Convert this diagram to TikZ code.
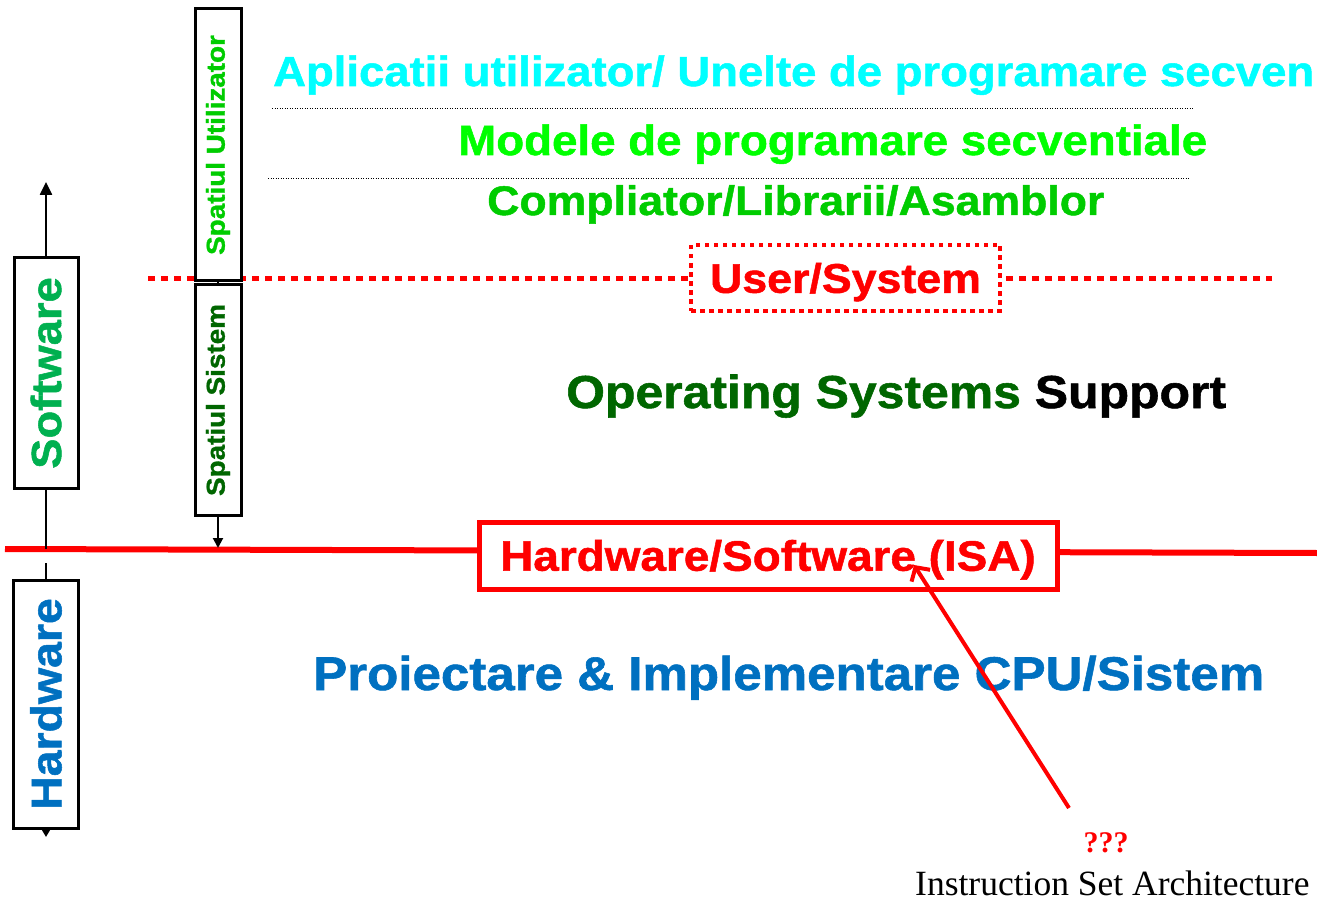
\documentclass[tikz,border=0pt]{standalone}
\usepackage{fontspec}
\usetikzlibrary{arrows.meta}
\newfontfamily\heavy{Liberation Sans}[UprightFont={* Bold}, FakeStretch=1.08, FakeBold=1.2]
\newfontfamily\serifname{Liberation Serif}
\definecolor{appcyan}{HTML}{00FFFF}
\definecolor{modlime}{HTML}{00FF00}
\definecolor{compgreen}{HTML}{00CC00}
\definecolor{swgreen}{HTML}{00B050}
\definecolor{osgreen}{HTML}{006600}
\definecolor{hwblue}{HTML}{0070C0}
\tikzset{
  big/.style={font=\heavy\fontsize{#1}{#1}\selectfont},
  vbox/.style={draw=black, line width=3pt, fill=white, rotate=90, inner sep=0pt},
  axis/.style={draw=black, line width=2.5pt},
  label/.style={anchor=base west, inner sep=0pt},
  sep/.style={draw=black, line width=1pt, dash pattern=on 1pt off 1.5pt},
}
\begin{document}
\begin{tikzpicture}[x=1pt,y=-1pt]
\clip (0,0) rectangle (1317,901);

% layer separators
\coordinate (sepAL) at (272,109);  \coordinate (sepAR) at (1193,109);
\coordinate (sepBL) at (268,179);  \coordinate (sepBR) at (1190,179);
\draw[sep] (sepAL) -- (sepAR);
\draw[sep] (sepBL) -- (sepBR);

% user/system boundary
\coordinate (usL) at (148,279); \coordinate (usR) at (1272,279);
\draw[red, line width=5pt, dash pattern=on 7pt off 6pt] (usL) -- (usR);

% hardware/software boundary
\coordinate (hsL) at (5,549); \coordinate (hsR) at (1317,553);
\draw[red, line width=6pt] (hsL) -- (hsR);

% vertical side boxes
\node[vbox, minimum width=230pt, minimum height=64pt, text=swgreen, big=42] (sw) at (46,373) {Software};
\node[vbox, minimum width=248pt, minimum height=65pt, text=hwblue, big=43] (hw) at (46,704) {Hardware};
\node[vbox, minimum width=272pt, minimum height=46pt, text=compgreen, big=25.8] (su) at (218,145) {Spatiul Utilizator};
\node[vbox, minimum width=230pt, minimum height=46pt, text=osgreen, big=25.8] (ss) at (218,400) {Spatiul Sistem};

\coordinate (swtop) at (46,182);
\coordinate (swfoot) at (46,549);
\coordinate (hwhead) at (46,563);
\coordinate (hwtip) at (46,837);
\coordinate (sstip) at (218,548);
\draw[axis, -{Triangle[length=13pt,width=12pt]}] (sw.east) -- (swtop);
\draw[axis] (sw.west) -- (swfoot);
\draw[axis] (hwhead) -- (hw.east);
\draw[axis, -{Triangle[length=9pt,width=10pt]}] (hw.west) -- (hwtip);
\draw[axis, line width=1.5pt] (su.west) -- (ss.east);
\draw[axis, line width=2pt, -{Triangle[length=10pt,width=10pt]}] (ss.west) -- (sstip);

% layer texts
\node[label, text=appcyan, big=42.1] (app) at (273,86) {Aplicatii utilizator/ Unelte de programare secven};
\node[label, text=modlime, big=42.3] (mod) at (458,155) {Modele de programare secventiale};
\node[label, text=compgreen, big=41.3] (comp) at (487,215) {Compliator/Librarii/Asamblor};

\node[draw=red, line width=4pt, dash pattern=on 4.5pt off 4.5pt, fill=white,
      minimum width=309pt, minimum height=66pt, inner sep=0pt,
      text=red, big=41.4, text height=29.6pt, text depth=0pt] (us) at (845.5,278) {User/System};

\node[label, big=46.2] (os) at (566,408) {\textcolor{osgreen}{Operating Systems} Support};

\node[draw=red, line width=5pt, fill=white,
      minimum width=578pt, minimum height=67pt, inner sep=0pt,
      text=red, big=42.5, text height=30.4pt, text depth=0pt] (isa) at (768,555.5) {Hardware/Software (ISA)};

\node[label, text=hwblue, big=47.3] (cpu) at (313,690) {Proiectare \& Implementare CPU/Sistem};

% ISA note
\node[text=red, inner sep=0pt, font=\serifname\bfseries\fontsize{30}{30}\selectfont] (q) at (1106,843) {???};
\node[label, font=\serifname\fontsize{35.5}{35.5}\selectfont] (isaname) at (915,895) {Instruction Set Architecture};

\coordinate (notefoot) at (1069,808);
\coordinate (isatip) at (914,565);
\draw[red, line width=4pt, -{Straight Barb[length=10pt,width=22pt]}] (notefoot) -- (isatip);
\end{tikzpicture}
\end{document}
